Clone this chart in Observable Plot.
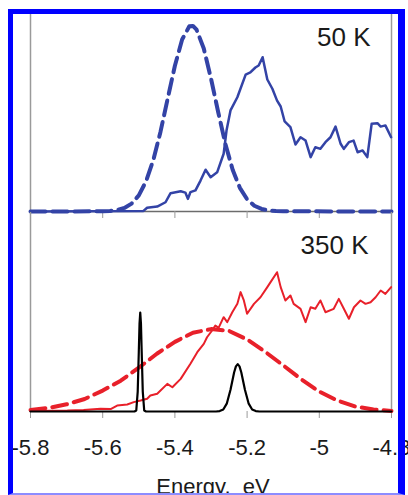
<!DOCTYPE html>
<html>
<head>
<meta charset="utf-8">
<script src="https://cdn.jsdelivr.net/npm/d3@7"></script>
<script src="https://cdn.jsdelivr.net/npm/@observablehq/plot@0.6"></script>
<style>
  html, body { margin: 0; padding: 0; background: #fff; }
  #chart { position: relative; width: 408px; height: 495px; overflow: hidden; background: #fff; }
  #chart svg { position: absolute; left: 0; }
  #frame { position: absolute; left: 8px; top: 9px; width: 397px; height: 486px; box-sizing: border-box;
           border-left: 5px solid #0000ff; border-top: 5px solid #0000ff; border-right: 7px solid #0000ff;
           border-bottom: 2px solid #8c8cff; pointer-events: none; z-index: 5; }
</style>
</head>
<body>
<div id="chart"><div id="frame"></div></div>
<script>
// ---- axis ----
const energyTicks = [-5.8, -5.6, -5.4, -5.2, -5.0, -4.8];
const tickLabels = ["-5.8", "-5.6", "-5.4", "-5.2", "-5", "-4.8"];
const axisTitle = "Energy,  eV";
const panelLabels = ["50 K", "350 K"];

// ---- 50 K panel: fitted (dashed) curve ----
const fit50E = [-5.80, -5.60, -5.58, -5.56, -5.54, -5.52, -5.50, -5.48, -5.46, -5.44, -5.42, -5.40, -5.38, -5.36, -5.35, -5.34, -5.32, -5.30, -5.28, -5.26, -5.24, -5.22, -5.20, -5.18, -5.16, -5.14, -5.12, -5.10, -4.80];
const fit50I = [0, 0.001, 0.003, 0.007, 0.018, 0.040, 0.082, 0.153, 0.260, 0.404, 0.573, 0.740, 0.873, 0.940, 0.942, 0.923, 0.827, 0.675, 0.504, 0.342, 0.212, 0.120, 0.062, 0.029, 0.013, 0.005, 0.002, 0.001, 0];

// ---- 50 K panel: measured spectrum ----
const spec50E = [-5.800, -5.487, -5.477, -5.449, -5.426, -5.412, -5.384, -5.371, -5.364, -5.357, -5.343, -5.329, -5.315, -5.301, -5.283, -5.265, -5.257, -5.246, -5.227, -5.204, -5.191, -5.177, -5.168, -5.157, -5.144, -5.130, -5.117, -5.107, -5.096, -5.080, -5.066, -5.052, -5.038, -5.024, -5.011, -4.997, -4.983, -4.969, -4.955, -4.941, -4.932, -4.918, -4.905, -4.894, -4.880, -4.867, -4.855, -4.839, -4.830, -4.817, -4.801];
const spec50I = [0, 0.003, 0.019, 0.025, 0.047, 0.093, 0.103, 0.096, 0.064, 0.098, 0.107, 0.157, 0.212, 0.174, 0.199, 0.293, 0.411, 0.513, 0.580, 0.695, 0.706, 0.731, 0.741, 0.783, 0.670, 0.623, 0.563, 0.533, 0.457, 0.428, 0.340, 0.377, 0.360, 0.276, 0.326, 0.318, 0.352, 0.377, 0.431, 0.344, 0.318, 0.352, 0.360, 0.301, 0.310, 0.276, 0.445, 0.448, 0.431, 0.437, 0.377];

// ---- 350 K panel: fitted (dashed) curve ----
const fit350E = [-5.80, -5.75, -5.70, -5.65, -5.60, -5.55, -5.50, -5.45, -5.40, -5.35, -5.30, -5.25, -5.20, -5.15, -5.10, -5.05, -5.00, -4.95, -4.90, -4.85, -4.80];
const fit350I = [0.007, 0.018, 0.036, 0.063, 0.105, 0.155, 0.220, 0.290, 0.350, 0.396, 0.414, 0.405, 0.362, 0.300, 0.232, 0.162, 0.100, 0.055, 0.025, 0.010, 0.003];

// ---- 350 K panel: measured spectrum ----
const spec350E = [-5.800, -5.745, -5.698, -5.653, -5.606, -5.578, -5.560, -5.532, -5.514, -5.495, -5.477, -5.468, -5.449, -5.421, -5.407, -5.384, -5.357, -5.338, -5.320, -5.311, -5.297, -5.288, -5.279, -5.265, -5.255, -5.241, -5.227, -5.218, -5.209, -5.200, -5.181, -5.163, -5.144, -5.135, -5.117, -5.107, -5.094, -5.080, -5.071, -5.052, -5.038, -5.024, -5.011, -4.997, -4.983, -4.960, -4.946, -4.932, -4.918, -4.904, -4.886, -4.872, -4.858, -4.844, -4.830, -4.817, -4.801];
const spec350I = [0.003, 0.004, 0.005, 0.008, 0.014, 0.012, 0.030, 0.035, 0.047, 0.055, 0.064, 0.080, 0.089, 0.139, 0.122, 0.164, 0.240, 0.298, 0.340, 0.373, 0.407, 0.432, 0.420, 0.474, 0.449, 0.499, 0.541, 0.600, 0.558, 0.491, 0.541, 0.574, 0.625, 0.650, 0.700, 0.625, 0.558, 0.583, 0.541, 0.516, 0.449, 0.524, 0.516, 0.558, 0.499, 0.516, 0.566, 0.516, 0.466, 0.524, 0.558, 0.541, 0.549, 0.574, 0.608, 0.591, 0.625];

// ---- 350 K panel: calculated levels (black) ----
const levelE = [-5.800, -5.512, -5.507, -5.503, -5.500, -5.498, -5.496, -5.494, -5.492, -5.489, -5.485, -5.480, -5.286, -5.276, -5.266, -5.256, -5.246, -5.236, -5.231, -5.226, -5.221, -5.216, -5.206, -5.196, -5.186, -5.176, -5.166, -4.800];
const levelI = [0, 0, 0.005, 0.100, 0.300, 0.440, 0.497, 0.440, 0.300, 0.100, 0.005, 0, 0, 0.002, 0.010, 0.041, 0.109, 0.196, 0.227, 0.238, 0.227, 0.196, 0.109, 0.041, 0.010, 0.002, 0, 0];

const zip = (E, I) => E.map((e, k) => ({e, i: I[k]}));
const fit50 = zip(fit50E, fit50I);
const spec50 = zip(spec50E, spec50I);
const fit350 = zip(fit350E, fit350I);
const spec350 = zip(spec350E, spec350I);
const levels = zip(levelE, levelI);

const FONT = "'Liberation Sans', Arial, Helvetica, sans-serif";
const BLUE = "#3343a6";
const RED = "#e8202a";
const GRAY = "#9a9a9a";
const xDomain = [energyTicks[0], energyTicks[energyTicks.length - 1]];

const topPanel = Plot.plot({
  width: 408, height: 220,
  marginTop: 14, marginBottom: 9, marginLeft: 30, marginRight: 17,
  x: {domain: xDomain},
  y: {domain: [0, 1], axis: null},
  style: {fontFamily: FONT, background: "transparent", overflow: "visible"},
  marks: [
    Plot.ruleX(xDomain, {stroke: GRAY, strokeWidth: 1.5}),
    Plot.ruleY([0], {stroke: "#6c6c6c", strokeWidth: 1.5}),
    Plot.axisX({ticks: energyTicks, tickSize: 7, tickFormat: () => "", stroke: GRAY, label: null}),
    Plot.line(fit50, {x: "e", y: "i", stroke: BLUE, strokeWidth: 4, strokeDasharray: "15,7"}),
    Plot.line(spec50, {x: "e", y: "i", stroke: BLUE, strokeWidth: 2.5, strokeLinejoin: "round"}),
    Plot.text([panelLabels[0]], {text: d => d, frameAnchor: "top-right", textAnchor: "end", lineAnchor: "top",
      dx: -21, dy: 13, fontSize: 26, fill: "#1a1a1a"})
  ]
});
topPanel.style.top = "0px";

const bottomPanel = Plot.plot({
  width: 408, height: 283,
  marginTop: 0, marginBottom: 84, marginLeft: 30, marginRight: 17,
  x: {domain: xDomain},
  y: {domain: [0, 1], axis: null},
  style: {fontFamily: FONT, background: "transparent", overflow: "visible"},
  marks: [
    Plot.ruleX(xDomain, {stroke: GRAY, strokeWidth: 1.5}),
    Plot.axisX({ticks: energyTicks, tickSize: 7, tickPadding: 21, stroke: GRAY, fill: "#1a1a1a", fontSize: 22,
      tickFormat: d => tickLabels[energyTicks.findIndex(t => Math.abs(t - d) < 1e-9)], label: null}),
    Plot.line(fit350, {x: "e", y: "i", stroke: RED, strokeWidth: 4, strokeDasharray: "15,7"}),
    Plot.line(spec350, {x: "e", y: "i", stroke: RED, strokeWidth: 2, strokeLinejoin: "round"}),
    Plot.line(levels, {x: "e", y: "i", stroke: "#000", strokeWidth: 2.2}),
    Plot.text([panelLabels[1]], {text: d => d, frameAnchor: "top-right", textAnchor: "end", lineAnchor: "top",
      dx: -23, dy: 23, fontSize: 26, fill: "#1a1a1a"}),
    Plot.text([axisTitle], {text: d => d, frameAnchor: "bottom", lineAnchor: "top", dx: 2, dy: 67,
      fontSize: 22, fill: "#1a1a1a"})
  ]
});
bottomPanel.style.top = "212px";

const chart = document.getElementById("chart");
chart.insertBefore(topPanel, chart.firstChild);
chart.insertBefore(bottomPanel, document.getElementById("frame"));
</script>
</body>
</html>
